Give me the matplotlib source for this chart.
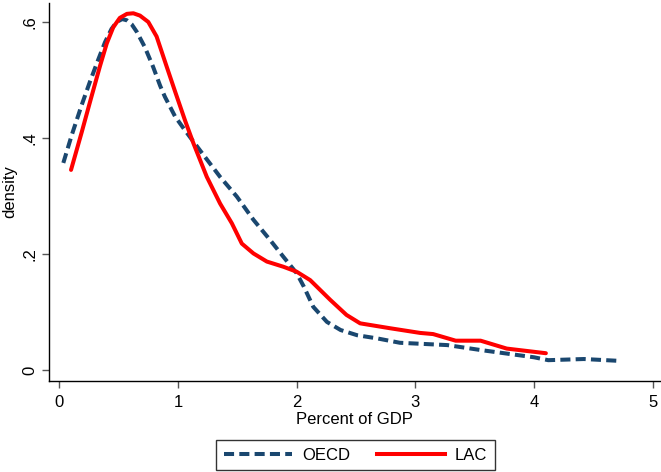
import matplotlib.pyplot as plt
import matplotlib.lines as mlines

plt.rcParams['font.family'] = ['Liberation Sans', 'DejaVu Sans']

# Kernel density estimates
oecd_x = [0.034, 0.105, 0.189, 0.26, 0.33, 0.385, 0.44, 0.484, 0.53, 0.568,
          0.61, 0.653, 0.72, 0.79, 0.85, 0.89, 0.976, 1.046, 1.10, 1.214,
          1.355, 1.496, 1.636, 1.777, 1.889, 2.0, 2.06, 2.14, 2.255, 2.37,
          2.51, 2.68, 2.87, 3.27, 3.55, 4.0, 4.12, 4.42, 4.70]
oecd_y = [0.357, 0.405, 0.457, 0.498, 0.536, 0.565, 0.588, 0.600, 0.605, 0.603,
          0.596, 0.583, 0.557, 0.523, 0.49, 0.471, 0.437, 0.417, 0.402, 0.371,
          0.333, 0.299, 0.259, 0.224, 0.195, 0.167, 0.144, 0.109, 0.083, 0.069,
          0.060, 0.0545, 0.047, 0.043, 0.0345, 0.022, 0.017, 0.019, 0.016]

lac_x = [0.099, 0.189, 0.26, 0.343, 0.40, 0.455, 0.51, 0.57, 0.624, 0.68,
         0.75, 0.82, 0.905, 0.976, 1.018, 1.06, 1.13, 1.243, 1.355, 1.454,
         1.538, 1.636, 1.749, 1.889, 2.0, 2.114, 2.283, 2.42, 2.535, 2.789,
         3.04, 3.15, 3.34, 3.55, 3.77, 4.10]
lac_y = [0.345, 0.41, 0.463, 0.524, 0.563, 0.591, 0.607, 0.614, 0.615, 0.611,
         0.600, 0.575, 0.523, 0.480, 0.455, 0.43, 0.391, 0.333, 0.287, 0.253,
         0.218, 0.201, 0.187, 0.178, 0.1695, 0.155, 0.121, 0.095, 0.0805, 0.072,
         0.064, 0.062, 0.0506, 0.0506, 0.037, 0.029]

xticks = [0, 1, 2, 3, 4, 5]
yticks = [0, 0.2, 0.4, 0.6]
ytick_labels = ['0', '.2', '.4', '.6']

navy = '#1a476f'
red = '#ff0000'

fig = plt.figure(figsize=(6.61, 4.72), dpi=100)
ax = fig.add_axes([0.0737, 0.1934, 0.9263, 0.8006])

ax.plot(oecd_x, oecd_y, color=navy, lw=2.9, dashes=(2.5, 1.3),
        solid_capstyle='butt', dash_capstyle='butt', solid_joinstyle='round')
ax.plot(lac_x, lac_y, color=red, lw=2.9, solid_capstyle='round',
        solid_joinstyle='round')

ax.set_xlim(-0.089, 5.07)
ax.set_ylim(-0.0184, 0.633)
ax.set_xticks(xticks)
ax.set_yticks(yticks)
ax.set_yticklabels(ytick_labels, rotation=90, va='center')

for side in ['top', 'right']:
    ax.spines[side].set_visible(False)
for side in ['left', 'bottom']:
    ax.spines[side].set_linewidth(1.0)
    ax.spines[side].set_color('black')

ax.tick_params(direction='out', length=5, width=1, color='#555555',
               labelsize=12)
ax.tick_params(axis='x', pad=5)
ax.tick_params(axis='y', pad=3)
ax.set_xlabel('Percent of GDP', fontsize=12, labelpad=2)
ax.set_ylabel('density', fontsize=12, labelpad=4)

h1 = mlines.Line2D([], [], color=navy, lw=2.9, dashes=(2.5, 1.3))
h2 = mlines.Line2D([], [], color=red, lw=2.9)
leg = fig.legend([h1, h2], ['OECD', 'LAC'], loc='lower center',
                 bbox_to_anchor=(0.538, 0.0), ncol=2, fontsize=12,
                 frameon=True, fancybox=False, edgecolor='black',
                 handlelength=4.1, columnspacing=1.6, handletextpad=0.6,
                 borderpad=0.45, borderaxespad=0.1)
leg.get_frame().set_linewidth(1.0)

fig.savefig('out.png', dpi=100)
